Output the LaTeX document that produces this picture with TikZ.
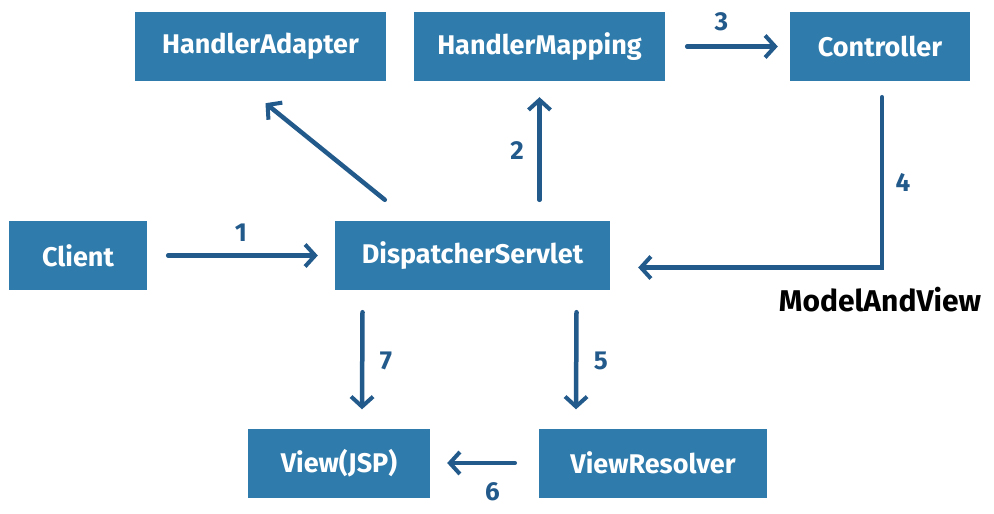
\documentclass[tikz,border=0pt]{standalone}
\usepackage{fontspec}
\setmainfont{Fira Sans}
\usepackage{xcolor}
\usepackage{tikz}
\usetikzlibrary{arrows.meta,calc}

\definecolor{boxblue}{HTML}{2F7BAB}
\definecolor{inkblue}{HTML}{235A8C}

\begin{document}
\begin{tikzpicture}[
    x=1pt,y=-1pt,
    box/.style={fill=boxblue,text=white,font=\fontsize{27}{31}\selectfont\bfseries,minimum height=69pt,inner sep=0pt},
    flow/.style={draw=inkblue,line width=4.5pt,line cap=round,-{Straight Barb[length=10pt,width=22pt,line width=4pt]}},
    num/.style={font=\fontsize{26}{30}\selectfont\bfseries,text=inkblue},
  ]
  \useasboundingbox[fill=white] (0,0) rectangle (994,514);

  \node[box,minimum width=251pt] (ha) at (260.5,46.5) {HandlerAdapter};
  \node[box,minimum width=251pt] (hm) at (539.5,46.5) {HandlerMapping};
  \node[box,minimum width=180pt] (ctrl) at (880,46.5) {Controller};
  \node[box,minimum width=138pt] (client) at (78,255.5) {Client};
  \node[box,minimum width=275pt] (ds) at (472.5,255.5) {DispatcherServlet};
  \node[box,minimum width=182pt] (view) at (339,463) {View(JSP)};
  \node[box,minimum width=228pt] (vr) at (653,463) {ViewResolver};
  \node[font=\fontsize{30}{34}\selectfont\bfseries] (mav) at (880,300) {ModelAndView};

  \draw[flow,shorten <=21pt,shorten >=17pt] (client) -- node[num,above=8pt] {1} (ds);
  \draw[flow] ($(ds.north west)+(50,-21)$) -- ($(ha.south)+(5,22)$);
  \draw[flow,shorten <=21pt,shorten >=16pt] (hm.south |- ds.north) -- node[num,left=10pt] {2} (hm.south);
  \draw[flow,shorten <=22pt,shorten >=12pt] (hm) -- node[num,above=10pt,xshift=-6pt] {3} (ctrl);
  \draw[flow] ($(ctrl.south)+(2,16)$) |- node[num,pos=0.25,right=8pt] {4} ($(ds.east)+(28,12)$);
  \draw[flow] ($(ds.south)+(104,22)$) -- node[num,right=12pt] {5} ($(vr.north)+(-77,-19)$);
  \draw[flow,shorten <=24pt,shorten >=17pt] (vr) -- node[num,below=14pt,xshift=8pt] {6} (view);
  \draw[flow] ($(ds.south)+(-110,22)$) -- node[num,right=12pt] {7} ($(view.north)+(23,-19)$);
\end{tikzpicture}
\end{document}
